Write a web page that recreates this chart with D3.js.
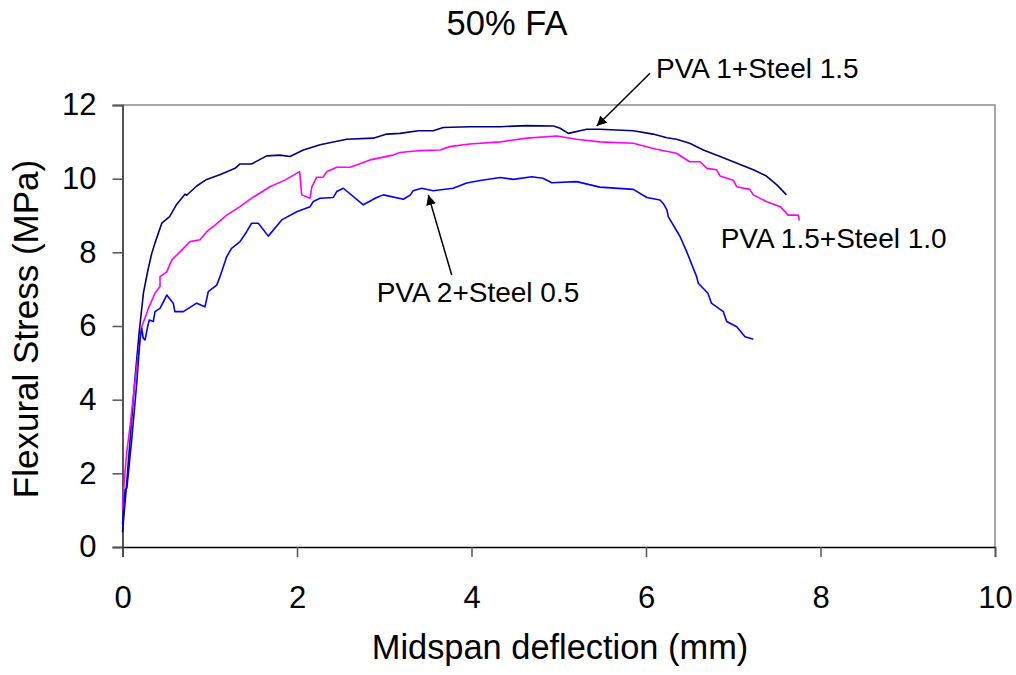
<!DOCTYPE html>
<html><head><meta charset="utf-8">
<script src="https://cdn.jsdelivr.net/npm/d3@7"></script>
<style>html,body{margin:0;padding:0;background:#fff;}svg{display:block;font-family:"Liberation Sans",Arial,sans-serif;}</style>
</head><body>
<svg id="chart" width="1016" height="675"></svg>
<script>
const title = "50% FA";
const xLabel = "Midspan deflection (mm)";
const yLabel = "Flexural Stress (MPa)";
const xTicks = [0, 2, 4, 6, 8, 10];
const yTicks = [0, 2, 4, 6, 8, 10, 12];
const seriesNames = ["PVA 1+Steel 1.5", "PVA 1.5+Steel 1.0", "PVA 2+Steel 0.5"];

const pva1steel15 = [[0,0.4],[0.04,1.5],[0.09,3.0],[0.14,4.5],[0.19,5.8],[0.24,6.9],[0.29,7.5],[0.335,7.97],[0.372,8.25],[0.45,8.79],[0.54,8.97],[0.62,9.3],[0.716,9.58],[0.736,9.55],[0.85,9.8],[0.965,9.98],[1.13,10.12],[1.29,10.28],[1.347,10.40],[1.48,10.40],[1.653,10.62],[1.805,10.64],[1.92,10.60],[2.072,10.78],[2.264,10.92],[2.57,11.07],[2.874,11.10],[3.03,11.21],[3.18,11.23],[3.39,11.30],[3.56,11.30],[3.677,11.39],[3.98,11.41],[4.327,11.41],[4.633,11.44],[4.94,11.43],[5.016,11.37],[5.11,11.23],[5.32,11.34],[5.47,11.34],[5.855,11.30],[6.08,11.21],[6.24,11.11],[6.35,11.07],[6.50,10.96],[6.657,10.78],[6.85,10.60],[7.0,10.46],[7.23,10.24],[7.38,10.07],[7.50,9.83],[7.61,9.56]];

const pva15steel10 = [[0,1.0],[0.02,1.8],[0.05,2.6],[0.086,3.27],[0.12,4.0],[0.163,4.9],[0.2,5.6],[0.22,5.98],[0.277,6.34],[0.30,6.5],[0.372,6.89],[0.43,7.07],[0.43,7.34],[0.507,7.47],[0.564,7.79],[0.679,8.06],[0.774,8.29],[0.888,8.34],[0.965,8.56],[1.06,8.74],[1.194,9.01],[1.347,9.24],[1.48,9.47],[1.69,9.78],[1.86,9.96],[2.03,10.19],[2.054,9.56],[2.15,9.47],[2.17,9.78],[2.226,10.04],[2.30,10.04],[2.34,10.19],[2.455,10.31],[2.61,10.31],[2.837,10.51],[3.10,10.64],[3.18,10.71],[3.39,10.76],[3.64,10.78],[3.75,10.87],[3.98,10.94],[4.33,11.00],[4.633,11.10],[4.977,11.16],[5.206,11.07],[5.47,11.00],[5.855,10.96],[6.12,10.80],[6.35,10.69],[6.50,10.46],[6.62,10.46],[6.70,10.28],[6.81,10.24],[6.85,10.07],[7.0,9.96],[7.04,9.78],[7.19,9.71],[7.23,9.56],[7.38,9.38],[7.54,9.24],[7.63,9.01],[7.745,9.01],[7.757,8.86]];

const pva2steel05 = [[0,0.6],[0.03,1.55],[0.05,1.6],[0.105,2.9],[0.163,4.44],[0.2,5.62],[0.22,5.94],[0.238,5.67],[0.258,5.62],[0.296,6.07],[0.307,6.16],[0.353,6.12],[0.372,6.39],[0.43,6.48],[0.507,6.84],[0.582,6.62],[0.60,6.39],[0.697,6.39],[0.85,6.62],[0.945,6.52],[0.983,6.93],[1.08,7.11],[1.117,7.34],[1.194,7.88],[1.25,8.11],[1.347,8.29],[1.423,8.56],[1.48,8.79],[1.557,8.79],[1.671,8.44],[1.825,8.88],[1.997,9.10],[2.15,9.24],[2.187,9.38],[2.264,9.47],[2.416,9.49],[2.455,9.65],[2.531,9.74],[2.76,9.29],[2.913,9.49],[2.99,9.56],[3.22,9.44],[3.30,9.56],[3.33,9.67],[3.43,9.74],[3.56,9.67],[3.79,9.74],[3.945,9.88],[4.10,9.95],[4.33,10.03],[4.48,9.98],[4.69,10.05],[4.82,10.01],[4.92,9.89],[5.206,9.92],[5.47,9.77],[5.855,9.71],[6.01,9.49],[6.16,9.42],[6.20,9.32],[6.24,9.15],[6.255,8.97],[6.39,8.43],[6.466,8.02],[6.58,7.34],[6.60,7.16],[6.71,6.89],[6.75,6.62],[6.886,6.39],[6.925,6.12],[7.04,5.98],[7.135,5.71],[7.23,5.64]];

const seriesData = [pva1steel15, pva15steel10, pva2steel05];
const seriesColors = ["#000080", "#ff00ff", "#0000ff"];

const svg = d3.select("#chart");
const x = d3.scaleLinear().domain([0, 10]).range([122.5, 995]);
const y = d3.scaleLinear().domain([0, 12]).range([547, 105]);

// frame (top & right)
svg.append("path")
  .attr("d", `M${x(0)},${y(12)}H${x(10)}V${y(0)}`)
  .attr("fill", "none").attr("stroke", "#8c8c8c").attr("stroke-width", 1.5);

// Y axis
const yAxis = svg.append("g").attr("transform", `translate(${x(0)},0)`)
  .call(d3.axisLeft(y).tickValues(yTicks).tickSize(10).tickPadding(16).tickFormat(d3.format("d")));
yAxis.select(".domain").attr("stroke", "#555").attr("stroke-width", 2);
yAxis.selectAll(".tick line").attr("stroke", "#555").attr("stroke-width", 1.5);
yAxis.selectAll("text").attr("font-size", 31).attr("fill", "#000").attr("font-family", "Liberation Sans, Arial, sans-serif");

// X axis
const xAxis = svg.append("g").attr("transform", `translate(0,${y(0)})`)
  .call(d3.axisBottom(x).tickValues(xTicks).tickSize(10).tickPadding(29).tickFormat(d3.format("d")));
xAxis.select(".domain").attr("stroke", "#000").attr("stroke-width", 1.5);
xAxis.selectAll(".tick line").attr("stroke", "#555").attr("stroke-width", 1.5);
xAxis.selectAll("text").attr("font-size", 31).attr("fill", "#000").attr("font-family", "Liberation Sans, Arial, sans-serif");

// lines
const line = d3.line().x(d => x(d[0])).y(d => y(d[1]));
seriesData.forEach((s, i) => {
  svg.append("path").datum(s)
    .attr("d", line)
    .attr("fill", "none")
    .attr("stroke", seriesColors[i])
    .attr("stroke-width", 1.6)
    .attr("stroke-linejoin", "round");
});

// title & axis labels
svg.append("text").attr("x", 507).attr("y", 35).attr("text-anchor", "middle")
  .attr("font-size", 34.5).text(title);
svg.append("text").attr("x", 560).attr("y", 659).attr("text-anchor", "middle")
  .attr("font-size", 34.4).text(xLabel);
svg.append("text").attr("transform", `translate(38,${329}) rotate(-90)`).attr("text-anchor", "middle")
  .attr("font-size", 35).text(yLabel);

// annotations (data coordinates)
const annotations = [
  {name: seriesNames[0], tx: 6.115, ty: 12.73, from: [6.046, 12.86], to: [5.435, 11.43]},
  {name: seriesNames[1], tx: 6.856, ty: 8.11, from: null, to: null},
  {name: seriesNames[2], tx: 2.913, ty: 6.66, from: [3.773, 7.385], to: [3.505, 9.557]}
];
const defs = svg.append("defs");
defs.append("marker").attr("id", "arrow").attr("viewBox", "0 0 10 10").attr("refX", 10).attr("refY", 5)
  .attr("markerWidth", 10).attr("markerHeight", 10).attr("markerUnits", "userSpaceOnUse").attr("orient", "auto")
  .append("path").attr("d", "M0,0L10,5L0,10z").attr("fill", "#000");
annotations.forEach(a => {
  svg.append("text").attr("x", x(a.tx)).attr("y", y(a.ty)).attr("font-size", 28).text(a.name);
  if (a.from) {
    svg.append("line")
      .attr("x1", x(a.from[0])).attr("y1", y(a.from[1]))
      .attr("x2", x(a.to[0])).attr("y2", y(a.to[1]))
      .attr("stroke", "#000").attr("stroke-width", 1.5).attr("marker-end", "url(#arrow)");
  }
});
</script>
</body></html>
